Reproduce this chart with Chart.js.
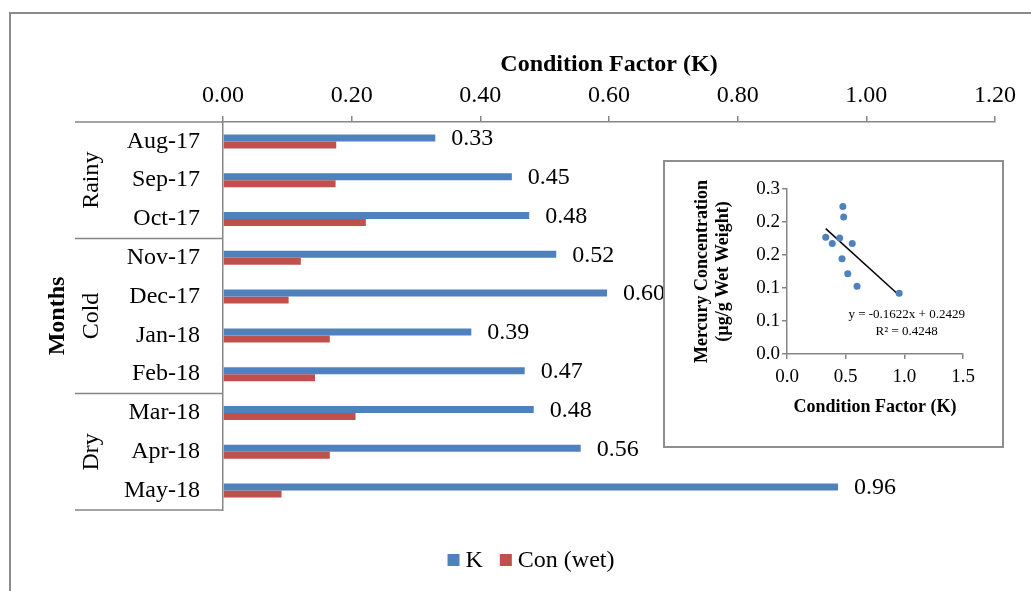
<!DOCTYPE html>
<html><head><meta charset="utf-8">
<script src="https://cdn.jsdelivr.net/npm/chart.js@4"></script>
<style>
html,body{margin:0;padding:0;background:#fff;}
#wrap{position:relative;width:1031px;height:591px;overflow:hidden;background:#fff;}
#frame{position:absolute;left:9px;top:12px;width:1100px;height:700px;border-top:2px solid #8c8c8c;border-left:2px solid #8c8c8c;}
#main{position:absolute;left:0;top:0;}
#inset{position:absolute;left:663px;top:160px;width:337px;height:284px;border:2px solid #8e8e8e;background:#fff;}
#sc{display:block;}
</style></head>
<body><div id="wrap"><div id="frame"></div><canvas id="main" width="1031" height="591"></canvas><div id="inset"><canvas id="sc" width="337" height="284"></canvas></div></div>
<script>
// ---- data ----
const months = ['Aug-17','Sep-17','Oct-17','Nov-17','Dec-17','Jan-18','Feb-18','Mar-18','Apr-18','May-18'];
const seasons = ['Rainy','Cold','Dry'];
const seasonSizes = [3,4,3];
const kValues = [0.330,0.449,0.476,0.518,0.597,0.386,0.469,0.483,0.556,0.956];
const conWet = [0.176,0.175,0.222,0.121,0.102,0.166,0.143,0.206,0.166,0.091];
const xTickValues = [0,0.2,0.4,0.6,0.8,1.0,1.2];
const scatterK = [0.330,0.449,0.476,0.518,0.597,0.386,0.469,0.483,0.556,0.956];
const scatterHg = [0.2125,0.211,0.268,0.146,0.123,0.201,0.173,0.249,0.201,0.1105];
const trendX = [0.33,0.96];
const trendY = [0.228,0.106];
const insetXTickValues = [0,0.5,1.0,1.5];
const insetYTickValues = [0,0.06,0.12,0.18,0.24,0.30];
const insetYLabels = ['0.0','0.1','0.1','0.2','0.2','0.3'];
const equationLines = ['y = -0.1622x + 0.2429','R\u00b2 = 0.4248'];

const SERIF = "'Liberation Serif','Times New Roman',serif";
const GRAY = '#868686';
const BLUE = '#4F81BD';
const RED = '#C0504D';

const mainPlugin = {
  id:'decor',
  afterDatasetsDraw(chart){
    const ctx = chart.ctx; const meta = chart.getDatasetMeta(0);
    ctx.save(); ctx.font = '24px '+SERIF; ctx.fillStyle='#000'; ctx.textBaseline='middle'; ctx.textAlign='left';
    meta.data.forEach((bar,i)=>{ ctx.fillText(kValues[i].toFixed(2), bar.x+16, bar.y+1); });
    ctx.restore();
  },
  afterDraw(chart){
    const {ctx, chartArea, scales:{y}} = chart;
    ctx.save();
    ctx.strokeStyle = GRAY; ctx.lineWidth = 1.5;
    const half = (y.getPixelForValue(1)-y.getPixelForValue(0))/2;
    let idx = 0;
    const bounds = [chartArea.top];
    seasonSizes.forEach(n=>{ idx+=n; bounds.push(y.getPixelForValue(idx-1)+half); });
    bounds.forEach(b=>{ctx.beginPath(); ctx.moveTo(75,b); ctx.lineTo(chartArea.left,b); ctx.stroke();});
    ctx.fillStyle='#000'; ctx.font='24px '+SERIF; ctx.textAlign='center'; ctx.textBaseline='middle';
    seasons.forEach((s,i)=>{ const cy=(bounds[i]+bounds[i+1])/2; ctx.save(); ctx.translate(92,cy); ctx.rotate(-Math.PI/2); ctx.fillText(s,0,0); ctx.restore();});
    ctx.font='bold 24px '+SERIF;
    ctx.save(); ctx.translate(58,(chartArea.top+chartArea.bottom)/2); ctx.rotate(-Math.PI/2); ctx.fillText('Months',0,0); ctx.restore();
    // legend
    ctx.font = '24px '+SERIF;
    const items = chart.data.datasets.map(d=>({label:d.label,color:d.backgroundColor}));
    const widths = items.map(it=>ctx.measureText(it.label).width);
    const total = items.reduce((a,it,i)=>a+12+6+widths[i],0) + 17*(items.length-1);
    let x = 531 - total/2; const cy = chartArea.bottom+50;
    items.forEach((it,i)=>{ ctx.fillStyle=it.color; ctx.fillRect(x,cy-6,12,12); x+=18; ctx.fillStyle='#000'; ctx.textAlign='left'; ctx.fillText(it.label,x,cy+1); x+=widths[i]+17;});
    ctx.restore();
  }
};

new Chart(document.getElementById('main'), {
  type:'bar',
  data:{labels:months, datasets:[
    {label:'K', data:kValues, backgroundColor:BLUE, borderWidth:0, categoryPercentage:0.36, barPercentage:1},
    {label:'Con (wet)', data:conWet, backgroundColor:RED, borderWidth:0, categoryPercentage:0.36, barPercentage:1}
  ]},
  options:{
    indexAxis:'y', responsive:false, animation:false,
    layout:{padding:{top:0,left:0,right:36,bottom:81}},
    plugins:{legend:{display:false}, tooltip:{enabled:false}},
    scales:{
      x:{position:'top', min:0, max:1.2,
        afterBuildTicks(s){ s.ticks = xTickValues.map(v=>({value:v})); },
        ticks:{font:{family:SERIF,size:24}, color:'#000', padding:6, callback:v=>Number(v).toFixed(2)},
        grid:{drawOnChartArea:false, drawTicks:true, tickLength:6, color:GRAY, lineWidth:1.5},
        border:{display:true,color:GRAY,width:1.5},
        title:{display:true,text:'Condition Factor (K)', font:{family:SERIF,size:24,weight:'bold'}, color:'#000', padding:{top:50.5,bottom:0}},
        afterFit(s){ s.height=122; }
      },
      y:{ticks:{font:{family:SERIF,size:24}, color:'#000', padding:23},
        grid:{display:false, drawTicks:false},
        border:{display:true,color:GRAY,width:1.5},
        afterFit(s){ s.width=223; }
      }
    }
  },
  plugins:[mainPlugin]
});

const eqPlugin = {
  id:'eq',
  afterDatasetsDraw(chart){
    const {ctx, scales:{x,y}} = chart;
    ctx.save(); ctx.font='13px '+SERIF; ctx.fillStyle='#000'; ctx.textAlign='center'; ctx.textBaseline='middle';
    ctx.fillText(equationLines[0], x.getPixelForValue(1.02), y.getPixelForValue(0.071));
    ctx.fillText(equationLines[1], x.getPixelForValue(1.02), y.getPixelForValue(0.041));
    ctx.restore();
  }
};

new Chart(document.getElementById('sc'), {
  type:'scatter',
  data:{datasets:[
    {label:'Hg', data: scatterK.map((k,i)=>({x:k,y:scatterHg[i]})), backgroundColor:BLUE, borderColor:BLUE, pointRadius:3.5, borderWidth:0},
    {type:'line', label:'trend', data: trendX.map((x,i)=>({x:x, y:trendY[i]})), borderColor:'#000', borderWidth:1.5, pointRadius:0, showLine:true, fill:false}
  ]},
  options:{responsive:false, animation:false,
    layout:{padding:{top:27,left:0,right:39,bottom:0}},
    plugins:{legend:{display:false},tooltip:{enabled:false}},
    scales:{
      x:{type:'linear', min:0, max:1.5,
        afterBuildTicks(s){ s.ticks = insetXTickValues.map(v=>({value:v})); },
        ticks:{font:{family:SERIF,size:19}, color:'#000', padding:7, callback:v=>Number(v).toFixed(1)},
        grid:{drawOnChartArea:false, tickLength:5, color:GRAY, lineWidth:1.5},
        border:{display:true,color:GRAY,width:1.5},
        title:{display:true,text:'Condition Factor (K)', font:{family:SERIF,size:18,weight:'bold',lineHeight:1.15}, color:'#000', padding:{top:0,bottom:28.6}},
        afterFit(s){ s.height=92; }
      },
      y:{type:'linear', min:0, max:0.3,
        afterBuildTicks(s){ s.ticks = insetYTickValues.map(v=>({value:v})); },
        ticks:{font:{family:SERIF,size:19}, color:'#000', padding:2, callback:(v,i)=>insetYLabels[i]},
        grid:{drawOnChartArea:false, tickLength:5, color:GRAY, lineWidth:1.5},
        border:{display:true,color:GRAY,width:1.5},
        title:{display:true,text:['Mercury Concentration','(\u00b5g/g Wet Weight)'], font:{family:SERIF,size:18,weight:'bold',lineHeight:1.13}, color:'#000', padding:{top:27.5,bottom:0}},
        afterFit(s){ s.width=122; }
      }
    }
  },
  plugins:[eqPlugin]
});
</script>
</body></html>
